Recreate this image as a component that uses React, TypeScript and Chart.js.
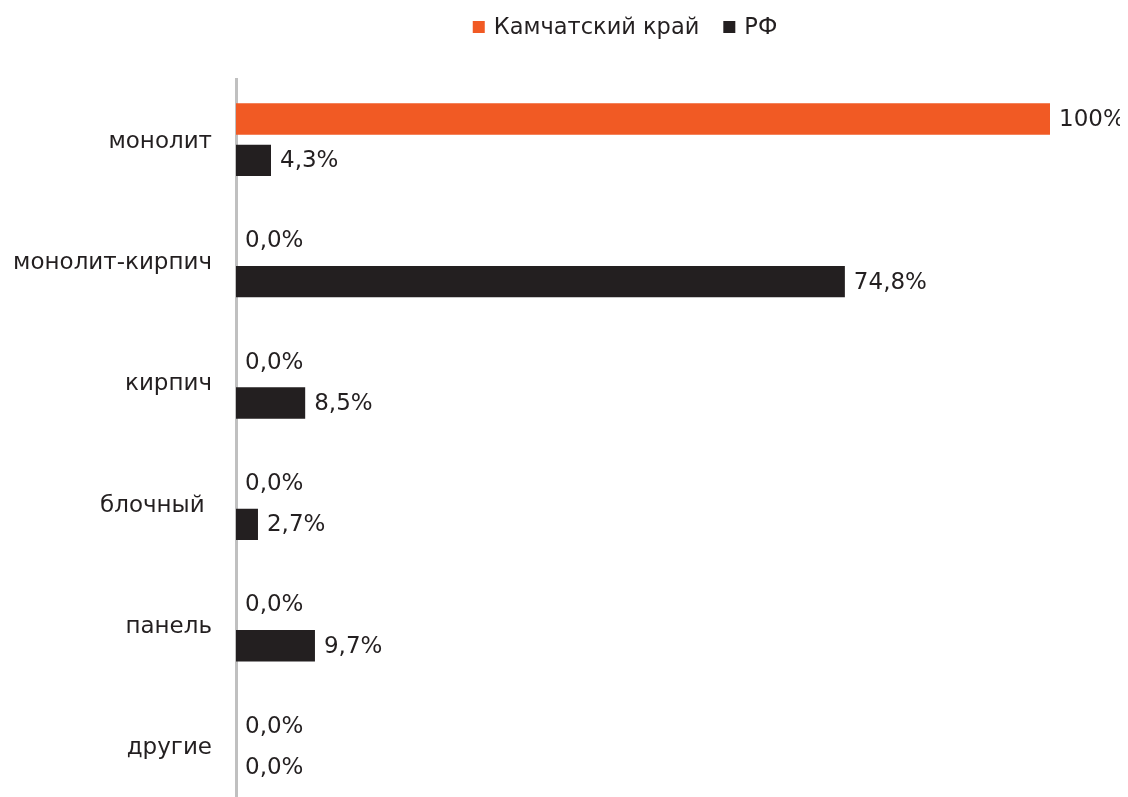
import React, { useEffect, useRef } from "react";
import { Chart, registerables } from "chart.js";

Chart.register(...registerables);

const categories = ["монолит", "монолит-кирпич", "кирпич", "блочный ", "панель", "другие"];
const seriesNames = ["Камчатский край", "РФ"];
const kamchatkaValues = [100, 0, 0, 0, 0, 0];
const rfValues = [4.3, 74.8, 8.5, 2.7, 9.7, 0];
const colors = ["#f15a24", "#231f20"];

const FONT = "'DejaVu Sans', sans-serif";
const TEXT = "#231f20";

const fmt = (v: number) => (v === 100 ? "100%" : v.toFixed(1).replace(".", ",") + "%");

const valueLabels = {
  id: "valueLabels",
  afterDatasetsDraw(chart: any) {
    const ctx = chart.ctx;
    ctx.save();
    ctx.font = `23px ${FONT}`;
    ctx.fillStyle = TEXT;
    ctx.textAlign = "left";
    ctx.textBaseline = "middle";
    chart.data.datasets.forEach((ds: any, i: number) => {
      const meta = chart.getDatasetMeta(i);
      meta.data.forEach((bar: any, j: number) => {
        ctx.fillText(fmt(ds.data[j]), bar.x + 9, bar.y + 1);
      });
    });
    ctx.restore();
  },
};

const customLegend = {
  id: "customLegend",
  afterDraw(chart: any) {
    const ctx = chart.ctx;
    ctx.save();
    ctx.font = `22.5px ${FONT}`;
    ctx.textBaseline = "middle";
    const box = 12;
    const gap = 9;
    const itemGap = 24;
    const items = chart.data.datasets.map((d: any) => ({ text: d.label, color: d.backgroundColor }));
    const widths = items.map((it: any) => box + gap + ctx.measureText(it.text).width);
    const total = widths.reduce((a: number, b: number) => a + b, 0) + itemGap * (items.length - 1);
    let x = 617 - total / 2;
    const y = 19;
    items.forEach((it: any, k: number) => {
      ctx.fillStyle = it.color;
      ctx.fillRect(x, y - box / 2, box, box);
      ctx.fillStyle = TEXT;
      ctx.fillText(it.text, x + box + gap, y + 1);
      x += widths[k] + itemGap;
    });
    ctx.restore();
  },
};

export default function App() {
  const ref = useRef<HTMLCanvasElement>(null);
  useEffect(() => {
    document.body.style.overflow = "hidden";
    const chart = new Chart(ref.current!, {
      type: "bar",
      data: {
        labels: categories,
        datasets: [
          { label: seriesNames[0], data: kamchatkaValues, backgroundColor: colors[0], barPercentage: 0.76, categoryPercentage: 0.68 },
          { label: seriesNames[1], data: rfValues, backgroundColor: colors[1], barPercentage: 0.76, categoryPercentage: 0.68 },
        ],
      },
      options: {
        indexAxis: "y",
        animation: false,
        responsive: false,
        layout: { padding: { top: 71, right: 78, bottom: 0, left: 0 } },
        plugins: { legend: { display: false }, tooltip: { enabled: false } },
        scales: {
          x: { display: false, min: 0, max: 100 },
          y: {
            z: 1,
            grid: { display: false, drawTicks: true, tickLength: 24 },
            border: { display: true, color: "#c0c0c0", width: 3 },
            ticks: { font: { family: FONT, size: 23 }, color: TEXT, padding: 0, labelOffset: 2 },
            afterFit(scale: any) {
              scale.width = 228;
            },
          },
        },
      },
      plugins: [valueLabels, customLegend],
    });
    return () => chart.destroy();
  }, []);
  return (
    <div style={{ width: 1120, height: 813 }}>
      <canvas ref={ref} width={1120} height={813} style={{ display: "block" }} />
    </div>
  );
}
